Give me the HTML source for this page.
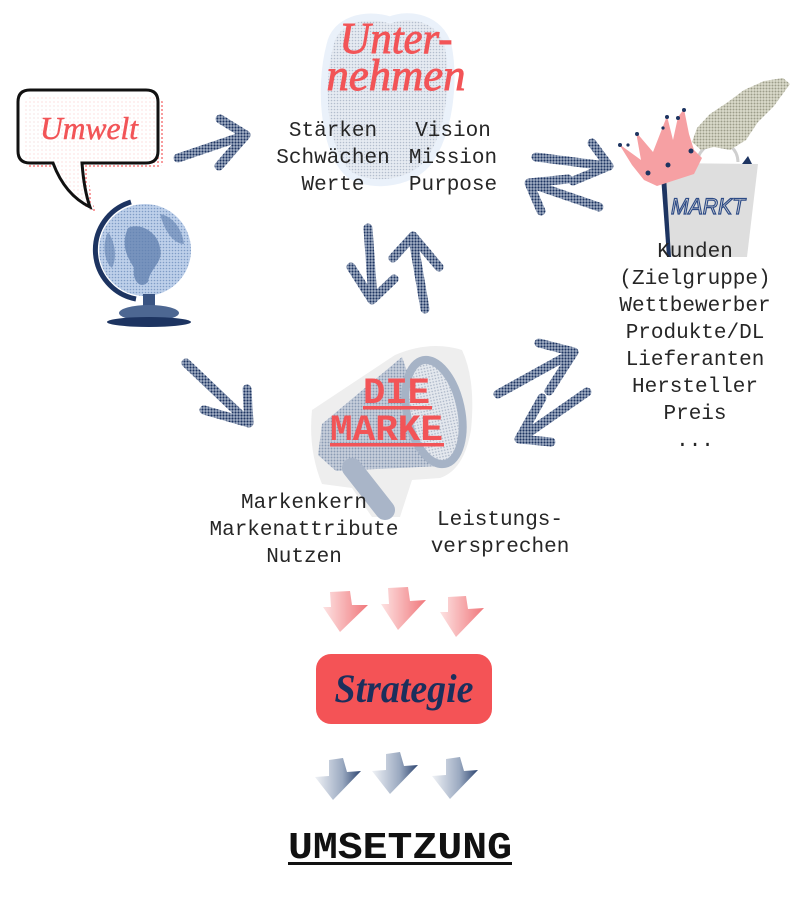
<!DOCTYPE html>
<html><head><meta charset="utf-8"><style>
html,body{margin:0;padding:0;background:#fff;}
body{width:800px;height:900px;overflow:hidden;position:relative;}
svg{position:absolute;left:0;top:0;}
.m{font-family:"Liberation Mono","DejaVu Sans Mono",monospace;font-size:21px;fill:#262626;}
</style></head><body>
<svg width="800" height="900" viewBox="0 0 800 900" xmlns="http://www.w3.org/2000/svg">
<defs>
  <pattern id="hn" width="3" height="3" patternUnits="userSpaceOnUse">
    <rect width="3" height="3" fill="#aab6ca"/><circle cx="1.5" cy="1.5" r="1.1" fill="#1d3461"/>
  </pattern>
  <pattern id="rd" width="4" height="4" patternUnits="userSpaceOnUse">
    <circle cx="2" cy="2" r="0.9" fill="#f25457"/>
  </pattern>
  <pattern id="gd" width="4" height="4" patternUnits="userSpaceOnUse">
    <circle cx="2" cy="2" r="0.8" fill="#9a9a9a"/>
  </pattern>
  <pattern id="hrt" width="3" height="3" patternUnits="userSpaceOnUse">
    <rect width="3" height="3" fill="#e6ebf2"/><circle cx="1.5" cy="1.5" r="0.8" fill="#b3bdcd"/>
  </pattern>
  <pattern id="glb" width="3" height="3" patternUnits="userSpaceOnUse">
    <rect width="3" height="3" fill="#bed0ea"/><circle cx="1.5" cy="1.5" r="0.8" fill="#7f9cc6"/>
  </pattern>
  <pattern id="meg" width="3" height="3" patternUnits="userSpaceOnUse">
    <rect width="3" height="3" fill="#c8d0dc"/><circle cx="1.5" cy="1.5" r="0.95" fill="#8a9ab3"/>
  </pattern>
  <pattern id="megl" width="3" height="3" patternUnits="userSpaceOnUse">
    <rect width="3" height="3" fill="#e4e8ee"/><circle cx="1.5" cy="1.5" r="0.8" fill="#a8b3c5"/>
  </pattern>
  <pattern id="hand" width="3" height="3" patternUnits="userSpaceOnUse">
    <rect width="3" height="3" fill="#dcdccc"/><circle cx="1.5" cy="1.5" r="1" fill="#9c9d8a"/>
  </pattern>
  <linearGradient id="rg" x1="0" y1="0" x2="1" y2="0">
    <stop offset="0" stop-color="#fde3e3"/><stop offset="1" stop-color="#f0777b"/>
  </linearGradient>
  <linearGradient id="bg" x1="0" y1="0" x2="1" y2="0">
    <stop offset="0" stop-color="#f0f2f6"/><stop offset="0.6" stop-color="#9aa9c0"/><stop offset="1" stop-color="#2c4470"/>
  </linearGradient>
</defs>

<!-- Heart behind Unternehmen -->
<path d="M330,45 C335,20 365,12 390,20 C410,12 440,18 448,45 C455,80 450,130 430,160 C415,182 375,190 350,175 C325,155 318,90 330,45 Z" fill="url(#hrt)" stroke="#eaf1fa" stroke-width="7"/>

<!-- Umwelt speech bubble -->
<path d="M36,96 H152 Q164,96 164,108 V157 Q164,169 152,169 H88 Q90,196 96,213 Q71,201 59,169 H36 Q24,169 24,157 V108 Q24,96 36,96 Z" fill="url(#rd)"/>
<path d="M26,106 H60 V150 H26 Z" fill="url(#gd)" opacity="0.6"/>
<path d="M30,90 H146 Q158,90 158,102 V151 Q158,163 146,163 H82 Q84,190 90,207 Q65,195 53,163 H30 Q18,163 18,151 V102 Q18,90 30,90 Z" fill="#fff" fill-opacity="0.85" stroke="#111" stroke-width="3"/>
<text x="89" y="139" text-anchor="middle" textLength="98" lengthAdjust="spacingAndGlyphs" font-family="Liberation Serif, serif" font-style="italic" font-size="32" fill="#f25457" stroke="#f25457" stroke-width="0.5">Umwelt</text>

<!-- Globe -->
<path d="M131,202 A50,50 0 0 0 136,299" fill="none" stroke="#1d3461" stroke-width="5"/>
<circle cx="145" cy="250" r="46" fill="url(#glb)"/>
<path d="M128,228 C140,222 158,232 160,248 C164,262 150,268 148,282 C140,290 132,280 134,268 C128,258 120,246 128,228 Z" fill="#5f7fae" opacity="0.75"/>
<path d="M160,214 C172,216 182,228 184,244 C176,244 166,236 160,214 Z" fill="#5f7fae" opacity="0.6"/>
<path d="M108,232 C114,240 118,256 112,268 C104,262 102,244 108,232 Z" fill="#5f7fae" opacity="0.6"/>
<rect x="143" y="294" width="12" height="12" fill="#3a5482"/>
<ellipse cx="149" cy="313" rx="30" ry="8" fill="#4d6792"/>
<ellipse cx="149" cy="322" rx="42" ry="5" fill="#1d3461"/>

<!-- Megaphone -->
<path d="M312,410 L395,355 Q430,340 462,350 Q476,380 471,430 Q464,470 440,478 L412,480 L400,517 L372,517 L352,488 L322,484 Q308,450 312,410 Z" fill="#eeeeee"/>
<path d="M402,357 L322,424 L318,455 L336,471 L440,466 Z" fill="url(#meg)"/>
<line x1="352" y1="468" x2="385" y2="510" stroke="#a9b5c8" stroke-width="20" stroke-linecap="round"/>
<ellipse cx="434" cy="412" rx="27" ry="53" fill="url(#megl)" stroke="#a6b3c6" stroke-width="8" transform="rotate(-12 434 412)"/>

<!-- Markt: hand, bag, crown -->
<path d="M697,165 C697,138 737,134 738,162" fill="none" stroke="#cfcfcf" stroke-width="3"/>
<polygon points="663,163 758,164 747,257 668,257" fill="#dedede"/>
<polygon points="661,176 666,176 671,257 667,257" fill="#1d3461"/>
<polygon points="742,164 748,156 752,164" fill="#1d3461"/>
<path d="M783,78 L790,84 L774,106 L758,122 L746,140 L730,150 L714,147 L701,150 L692,142 L697,128 L710,114 L728,102 L744,90 L764,81 Z" fill="url(#hand)"/>
<text x="708" y="214" text-anchor="middle" font-family="Liberation Sans, sans-serif" font-style="italic" font-size="22" fill="#dedede" stroke="#2d4b86" stroke-width="1.2" textLength="74" lengthAdjust="spacingAndGlyphs">MARKT</text>
<polygon points="619,144 641,160 636,132 653,152 667,116 673,140 678,117 684,109 689,134 694,150 702,158 694,174 657,186 644,180 632,165" fill="#f6a0a3"/>
<g fill="#1d3461">
<circle cx="620" cy="145" r="2"/><circle cx="628" cy="145" r="1.6"/><circle cx="637" cy="134" r="2"/><circle cx="667" cy="117" r="2"/><circle cx="678" cy="118" r="2"/><circle cx="684" cy="110" r="2"/><circle cx="663" cy="128" r="1.6"/><circle cx="691" cy="151" r="2.5"/><circle cx="668" cy="165" r="2.5"/><circle cx="648" cy="173" r="2.5"/>
</g>

<!-- Halftone arrows -->
<g fill="none" stroke="url(#hn)" stroke-width="9" stroke-linecap="round" stroke-linejoin="round">
  <path d="M178,158 L240,137 M220,119 L246,135 L219,166"/>
  <path d="M368,228 L373,299 M351,267 L372,300 L394,279"/>
  <path d="M425,309 L413,239 M393,258 L413,236 L439,267"/>
  <path d="M536,157 L606,166 M592,143 L609,166 L573,181"/>
  <path d="M599,207 L532,184 M568,179 L529,183 L541,211"/>
  <path d="M186,363 L246,420 M247,389 L249,423 L204,410"/>
  <path d="M498,394 L572,353 M539,343 L574,352 L549,391"/>
  <path d="M587,392 L521,438 M542,398 L519,439 L551,442"/>
</g>

<!-- Red block arrows -->
<g fill="url(#rg)">
  <polygon points="330,592 350,591 352,605 368,605 340,632 323,607 331,607"/>
  <polygon points="388,588 408,587 410,601 426,600 398,630 381,604 389,604"/>
  <polygon points="448,597 466,596 468,609 484,608 456,637 440,612 448,612"/>
</g>
<!-- Strategie box -->
<rect x="316" y="654" width="176" height="70" rx="15" ry="15" fill="#f45356"/>
<text x="404" y="702" text-anchor="middle" textLength="139" lengthAdjust="spacingAndGlyphs" font-family="Liberation Serif, serif" font-weight="bold" font-style="italic" font-size="40" fill="#1b2f5c">Strategie</text>
<!-- Blue block arrows -->
<g fill="url(#bg)">
  <polygon points="329,760 343,758 347,772 361,771 333,800 315,777 329,776"/>
  <polygon points="386,754 400,752 404,766 418,765 390,794 372,771 386,770"/>
  <polygon points="446,759 460,757 464,771 478,770 450,799 432,776 446,775"/>
</g>

<!-- Headings -->
<g font-family="Liberation Serif, serif" font-style="italic" font-size="44" fill="#f25457" stroke="#f25457" stroke-width="0.9" text-anchor="middle">
  <text x="396" y="53" textLength="113" lengthAdjust="spacingAndGlyphs">Unter-</text>
  <text x="396" y="90" textLength="139" lengthAdjust="spacingAndGlyphs">nehmen</text>
</g>
<g font-family="Liberation Mono, monospace" font-weight="bold" font-size="37" fill="#f25457">
  <text x="363" y="403" textLength="67" lengthAdjust="spacingAndGlyphs">DIE</text>
  <text x="330" y="440" textLength="113" lengthAdjust="spacingAndGlyphs">MARKE</text>
</g>
<rect x="363" y="406" width="69" height="3.5" fill="#f25457"/>
<rect x="330" y="443" width="114" height="3.5" fill="#f25457"/>

<text x="288" y="858" textLength="224" lengthAdjust="spacingAndGlyphs" font-family="Liberation Mono, monospace" font-weight="bold" font-size="38" fill="#111">UMSETZUNG</text>
<rect x="288" y="862" width="224" height="3" fill="#111"/>

<!-- Body text -->
<g class="m" text-anchor="middle">
  <text x="333" y="136">Stärken</text>
  <text x="333" y="163">Schwächen</text>
  <text x="333" y="190">Werte</text>
  <text x="453" y="136">Vision</text>
  <text x="453" y="163">Mission</text>
  <text x="453" y="190">Purpose</text>

  <text x="695" y="257">Kunden</text>
  <text x="695" y="284">(Zielgruppe)</text>
  <text x="695" y="311">Wettbewerber</text>
  <text x="695" y="338">Produkte/DL</text>
  <text x="695" y="365">Lieferanten</text>
  <text x="695" y="392">Hersteller</text>
  <text x="695" y="419">Preis</text>
  <text x="695" y="446">...</text>

  <text x="304" y="508">Markenkern</text>
  <text x="304" y="535">Markenattribute</text>
  <text x="304" y="562">Nutzen</text>

  <text x="500" y="525">Leistungs-</text>
  <text x="500" y="552">versprechen</text>
</g>
</svg>
</body></html>
